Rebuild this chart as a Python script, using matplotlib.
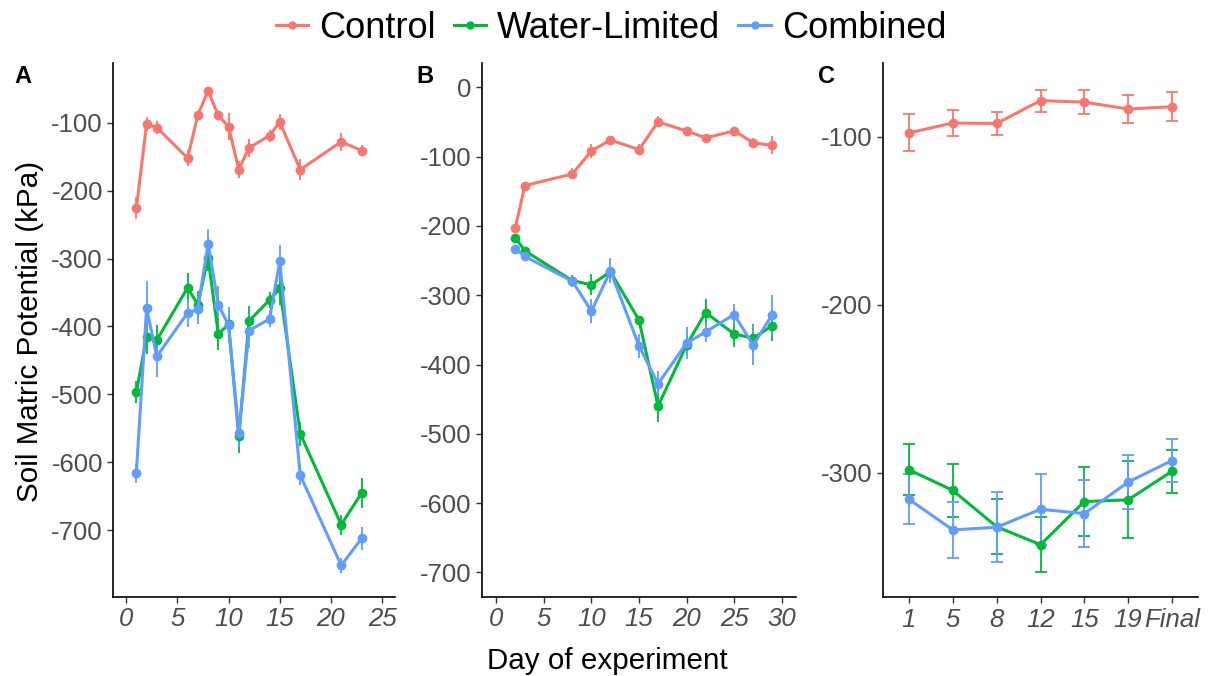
import matplotlib
matplotlib.use("Agg")
import matplotlib.pyplot as plt
from matplotlib.lines import Line2D

plt.rcParams['font.family'] = ['Liberation Sans', 'DejaVu Sans']
plt.rcParams['axes.unicode_minus'] = False

# ---------------- data ----------------
series_names = ["Control", "Water-Limited", "Combined"]
colors = ["#F8766D", "#00BA38", "#619CFF"]

days_A = [1, 2, 3, 6, 7, 8, 9, 10, 11, 12, 14, 15, 17, 21, 23]
ctrl_A = [-226, -102, -107, -152, -89, -53, -89, -106, -169, -137, -119, -99, -169, -128, -141]
ctrl_A_se = [16, 10, 10, 12, 5, 4, 5, 20, 12, 13, 9, 12, 15, 13, 8]
wl_A = [-497, -416, -420, -343, -368, -299, -411, -397, -562, -392, -361, -344, -558, -692, -645]
wl_A_se = [16, 24, 22, 22, 20, 20, 24, 15, 24, 22, 12, 24, 18, 15, 22]
cb_A = [-616, -373, -444, -380, -375, -278, -368, -398, -557, -406, -389, -304, -619, -752, -712]
cb_A_se = [14, 40, 30, 21, 22, 21, 27, 27, 20, 25, 12, 24, 15, 11, 17]

days_B = [2, 3, 8, 10, 12, 15, 17, 20, 22, 25, 27, 29]
ctrl_B = [-203, -142, -125, -92, -76, -90, -50, -63, -73, -63, -80, -84]
ctrl_B_se = [5, 5, 8, 10, 6, 8, 8, 6, 5, 5, 7, 13]
wl_B = [-217, -236, -279, -285, -266, -336, -460, -372, -325, -356, -362, -344]
wl_B_se = [5, 6, 8, 15, 8, 6, 23, 15, 20, 19, 20, 22]
cb_B = [-233, -244, -280, -323, -265, -373, -428, -369, -353, -328, -372, -328]
cb_B_se = [5, 6, 8, 17, 18, 17, 18, 23, 15, 15, 29, 29]

cats_C = ["1", "5", "8", "12", "15", "19", "Final"]
ctrl_C = [-97.6, -91.7, -92.0, -78.4, -79.3, -83.4, -82.0]
ctrl_C_se = [11, 7.5, 6.9, 6.5, 7.2, 8.3, 8.6]
wl_C = [-298.1, -310.4, -332.0, -342.7, -317.0, -316.0, -299.0]
wl_C_se = [15.3, 16, 16.5, 16.5, 20.7, 23, 12.8]
cb_C = [-315.7, -333.9, -332.3, -321.6, -324.2, -305.4, -292.6]
cb_C_se = [14.8, 16.8, 20.7, 21, 19.8, 16.2, 12.9]

# ---------------- figure ----------------
W, H = 1212, 676
fig = plt.figure(figsize=(W / 100, H / 100), dpi=100)

def rect(l, r, t, b):
    return [l / W, 1 - b / H, (r - l) / W, (b - t) / H]

axA = fig.add_axes(rect(113.3, 395, 63, 596.7))
axB = fig.add_axes(rect(482, 796, 63, 596.7))
axC = fig.add_axes(rect(882.7, 1198.3, 63, 597.3))

tick_col = "#4D4D4D"

def style(ax):
    for s in ["top", "right"]:
        ax.spines[s].set_visible(False)
    for s in ["left", "bottom"]:
        ax.spines[s].set_linewidth(1.2)
        ax.spines[s].set_color("black")
    ax.tick_params(axis="both", length=4.5, width=1.0, color="#333333",
                   labelcolor=tick_col, labelsize=18.5, pad=3)
    for lab in ax.get_xticklabels():
        lab.set_fontstyle("italic")

def draw(ax, x, ys, ses, caps=False):
    for y, se, c in zip(ys, ses, colors):
        ax.errorbar(x, y, yerr=se, color=c, lw=2.2, marker="o", ms=6,
                    elinewidth=1.3, capsize=(4 if caps else 0), capthick=1.3)

draw(axA, days_A, [ctrl_A, wl_A, cb_A], [ctrl_A_se, wl_A_se, cb_A_se])
axA.set_xlim(-1.25, 26.25)
axA.set_ylim(-798, -12)
axA.set_xticks([0, 5, 10, 15, 20, 25])
axA.set_yticks([-700, -600, -500, -400, -300, -200, -100])
style(axA)

draw(axB, days_B, [ctrl_B, wl_B, cb_B], [ctrl_B_se, wl_B_se, cb_B_se])
axB.set_xlim(-1.5, 31.5)
axB.set_ylim(-735, 35)
axB.set_xticks([0, 5, 10, 15, 20, 25, 30])
axB.set_yticks([-700, -600, -500, -400, -300, -200, -100, 0])
style(axB)

xc = list(range(1, len(cats_C) + 1))
draw(axC, xc, [ctrl_C, wl_C, cb_C], [ctrl_C_se, wl_C_se, cb_C_se], caps=True)
axC.set_xlim(0.4, len(cats_C) + 0.6)
axC.set_ylim(-374, -56)
axC.set_xticks(xc)
axC.set_xticklabels(cats_C)
axC.set_yticks([-300, -200, -100])
style(axC)

# panel letters
for lx, lab in [(14, "A"), (416, "B"), (818, "C")]:
    fig.text(lx / W, 1 - 83 / H, lab, fontsize=17, fontweight="bold",
             ha="left", va="baseline", color="black")

fig.text(607 / W, 1 - 661 / H, "Day of experiment", fontsize=21.3,
         ha="center", va="center")
fig.text(30 / W, 1 - 331 / H, "Soil Matric Potential (kPa)", fontsize=21.3,
         ha="center", va="center", rotation=90)

handles = [Line2D([0], [0], color=c, lw=2.2, marker="o", ms=5) for c in colors]
fig.legend(handles, series_names, loc="center", ncol=3,
           bbox_to_anchor=(611 / W, 1 - 28 / H), frameon=False,
           fontsize=26, handlelength=0.9, handletextpad=0.3,
           columnspacing=0.5, borderaxespad=0)

fig.savefig("out.png", dpi=100)
